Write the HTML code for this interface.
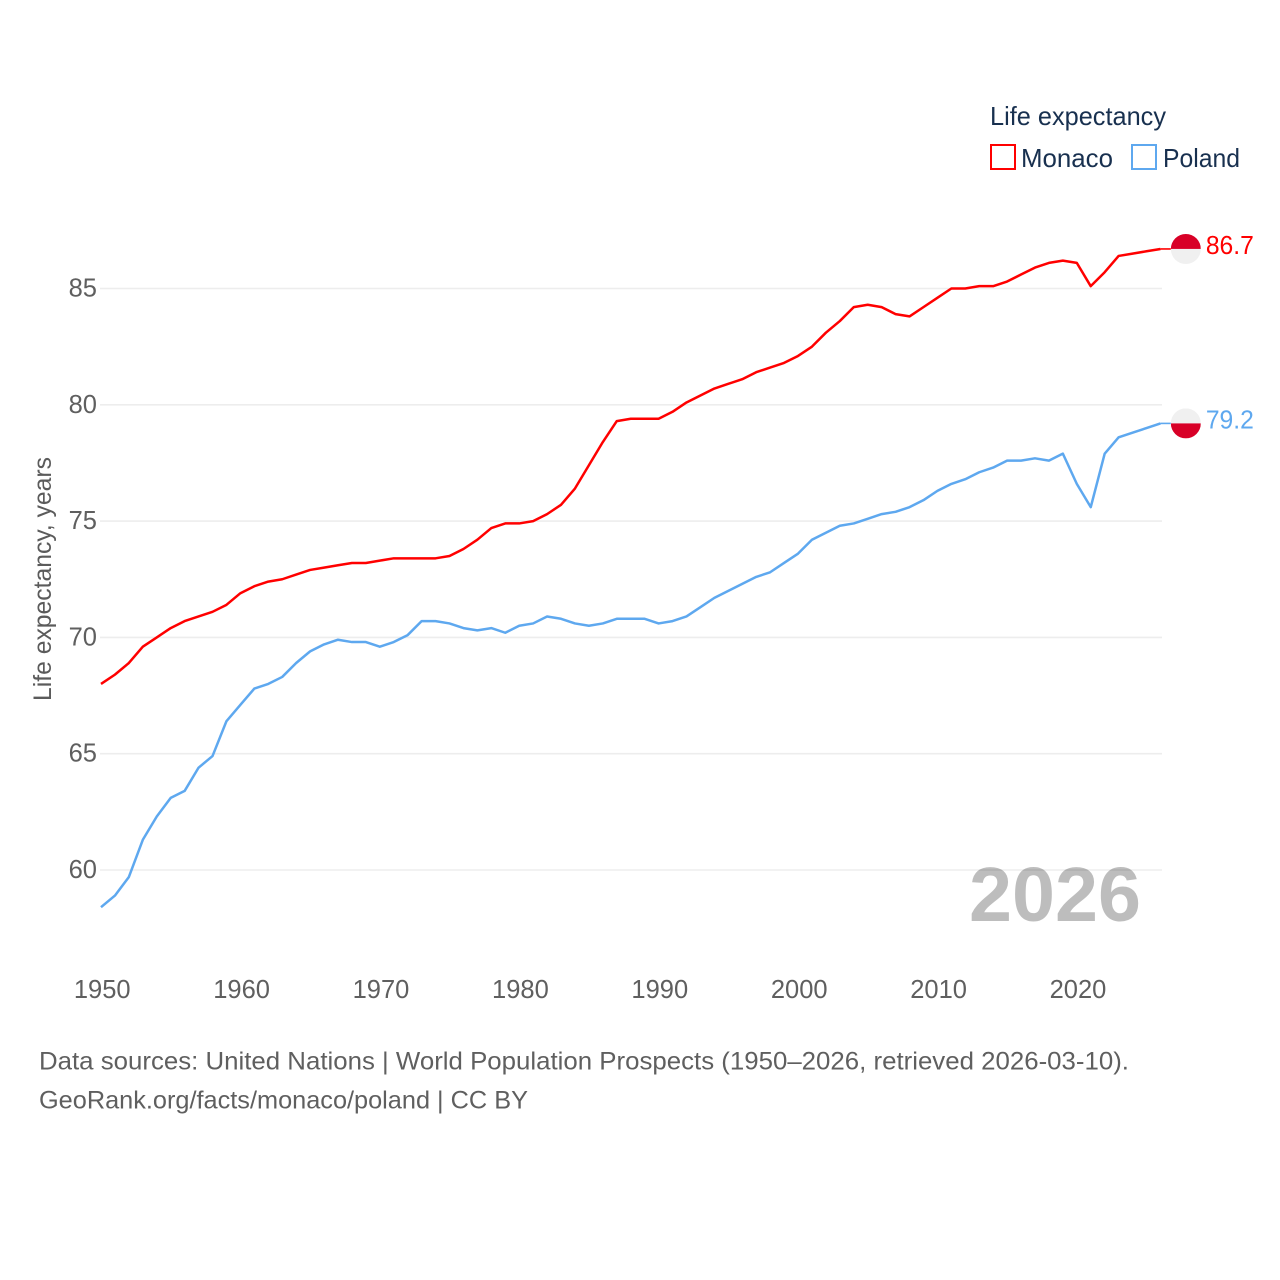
<!DOCTYPE html>
<html lang="en">
<head>
<meta charset="utf-8">
<title>Life expectancy: Monaco and Poland</title>
<style>
html,body{margin:0;padding:0;background:#fff;width:1280px;height:1280px;overflow:hidden}
svg{display:block;font-family:"Liberation Sans",sans-serif}
</style>
</head>
<body>
<svg id="chart" width="1280" height="1280" viewBox="0 0 1280 1280" xmlns="http://www.w3.org/2000/svg">
  <rect width="1280" height="1280" fill="#fff"/>
  <g id="grid"></g>
  <g id="yticks"></g>
  <g id="xticks"></g>
  <text transform="translate(51,701) rotate(-90)" font-size="25" fill="#5b5b5b" textLength="244" lengthAdjust="spacingAndGlyphs">Life expectancy, years</text>
  <text x="969" y="921" font-size="77" font-weight="bold" fill="#000" fill-opacity="0.26" textLength="172" lengthAdjust="spacingAndGlyphs">2026</text>
  <g id="series"></g>
  <g id="ends"></g>
  <g>
    <text x="990" y="125" font-size="26" fill="#18304f" textLength="176" lengthAdjust="spacingAndGlyphs">Life expectancy</text>
    <g>
      <rect x="991" y="145" width="24" height="24" fill="#fff" stroke="#ff0000" stroke-width="2"/>
      <text x="1021" y="167" font-size="26" fill="#18304f" textLength="92" lengthAdjust="spacingAndGlyphs">Monaco</text>
    </g>
    <g>
      <rect x="1132" y="145" width="24" height="24" fill="#fff" stroke="#5ea8ef" stroke-width="2"/>
      <text x="1163" y="167" font-size="26" fill="#18304f" textLength="77" lengthAdjust="spacingAndGlyphs">Poland</text>
    </g>
  </g>
  <g>
    <text x="39" y="1069.5" font-size="25" fill="#5f5f5f" textLength="1090" lengthAdjust="spacingAndGlyphs">Data sources: United Nations | World Population Prospects (1950–2026, retrieved 2026-03-10).</text>
    <text x="39" y="1108.5" font-size="25" fill="#5f5f5f" textLength="489" lengthAdjust="spacingAndGlyphs">GeoRank.org/facts/monaco/poland | CC BY</text>
  </g>
</svg>
<script>
const years = [1950,1951,1952,1953,1954,1955,1956,1957,1958,1959,1960,1961,1962,1963,1964,1965,1966,1967,1968,1969,1970,1971,1972,1973,1974,1975,1976,1977,1978,1979,1980,1981,1982,1983,1984,1985,1986,1987,1988,1989,1990,1991,1992,1993,1994,1995,1996,1997,1998,1999,2000,2001,2002,2003,2004,2005,2006,2007,2008,2009,2010,2011,2012,2013,2014,2015,2016,2017,2018,2019,2020,2021,2022,2023,2024,2025,2026];
const monacoValues = [68.0,68.4,68.9,69.6,70.0,70.4,70.7,70.9,71.1,71.4,71.9,72.2,72.4,72.5,72.7,72.9,73.0,73.1,73.2,73.2,73.3,73.4,73.4,73.4,73.4,73.5,73.8,74.2,74.7,74.9,74.9,75.0,75.3,75.7,76.4,77.4,78.4,79.3,79.4,79.4,79.4,79.7,80.1,80.4,80.7,80.9,81.1,81.4,81.6,81.8,82.1,82.5,83.1,83.6,84.2,84.3,84.2,83.9,83.8,84.2,84.6,85.0,85.0,85.1,85.1,85.3,85.6,85.9,86.1,86.2,86.1,85.1,85.7,86.4,86.5,86.6,86.7];
const polandValues = [58.4,58.9,59.7,61.3,62.3,63.1,63.4,64.4,64.9,66.4,67.1,67.8,68.0,68.3,68.9,69.4,69.7,69.9,69.8,69.8,69.6,69.8,70.1,70.7,70.7,70.6,70.4,70.3,70.4,70.2,70.5,70.6,70.9,70.8,70.6,70.5,70.6,70.8,70.8,70.8,70.6,70.7,70.9,71.3,71.7,72.0,72.3,72.6,72.8,73.2,73.6,74.2,74.5,74.8,74.9,75.1,75.3,75.4,75.6,75.9,76.3,76.6,76.8,77.1,77.3,77.6,77.6,77.7,77.6,77.9,76.6,75.6,77.9,78.6,78.8,79.0,79.2];
const yTickValues = [60,65,70,75,80,85];
const xTickValues = [1950,1960,1970,1980,1990,2000,2010,2020];

const NS = 'http://www.w3.org/2000/svg';
function xScale(year){ return 101 + (year - 1950) * 13.94; }
function yScale(value){ return 870 - (value - 60) * (870 - 288.5) / (85 - 60); }
function make(tag, parent, attrs){
  const el = document.createElementNS(NS, tag);
  for (const k in attrs) el.setAttribute(k, attrs[k]);
  parent.appendChild(el);
  return el;
}

const gridGroup = document.getElementById('grid');
const yGroup = document.getElementById('yticks');
const xGroup = document.getElementById('xticks');
const seriesGroup = document.getElementById('series');
const endsGroup = document.getElementById('ends');

yTickValues.forEach(function(v){
  const line = make('line', gridGroup, {x1:100, x2:1162, y1:yScale(v), y2:yScale(v), stroke:'#ededed', 'stroke-width':1.6});
  
  
  const label = make('text', yGroup, {x:97, y:yScale(v)+8, 'text-anchor':'end', 'font-size':25.5, fill:'#5f5f5f'});
  label.textContent = String(v);
  
  
});

xTickValues.forEach(function(v){
  const label = make('text', xGroup, {x:xScale(v)+1.2, y:998, 'text-anchor':'middle', 'font-size':25.5, fill:'#5f5f5f'});
  label.textContent = String(v);
  
  
});

function drawSeries(key, values, color, topColor, bottomColor){
  const pts = values.map(function(v, i){ return xScale(years[i]).toFixed(2) + ',' + yScale(v).toFixed(2); }).join(' ');
  const line = make('polyline', seriesGroup, {points:pts, fill:'none', stroke:color, 'stroke-width':2.5, 'stroke-linejoin':'round'});
  
  

  const last = values[values.length - 1];
  const ex = xScale(years[years.length - 1]);
  const ey = yScale(last);
  const cx = ex + 25.4;

  const connector = make('line', endsGroup, {x1:ex, x2:cx-15, y1:ey, y2:ey, stroke:color, 'stroke-width':1.6});
  
  

  const clip = make('clipPath', endsGroup, {id:'clip-' + key});
  make('circle', clip, {cx:cx, cy:ey, r:15});
  const flag = make('g', endsGroup, {'clip-path':'url(#clip-' + key + ')'});
  
  
  make('rect', flag, {x:cx-15, y:ey-15, width:30, height:15, fill:topColor});
  make('rect', flag, {x:cx-15, y:ey, width:30, height:15, fill:bottomColor});

  const valueLabel = make('text', endsGroup, {x:cx+20, y:ey+5, 'font-size':25.5, fill:color, textLength:48, lengthAdjust:'spacingAndGlyphs'});
  valueLabel.textContent = last.toFixed(1);
  
  
}

drawSeries('monaco', monacoValues, '#ff0000', '#d80027', '#f0f0f0');
drawSeries('poland', polandValues, '#5ea8ef', '#f0f0f0', '#d80027');
</script>
</body>
</html>
